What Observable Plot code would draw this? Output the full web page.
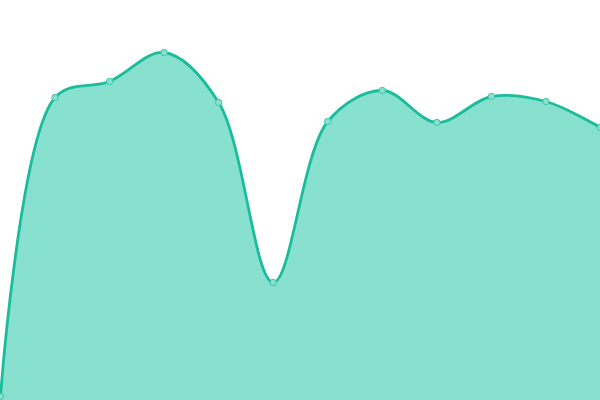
<!DOCTYPE html>
<html>
<head>
<meta charset="utf-8">
<script src="https://cdn.jsdelivr.net/npm/d3@7"></script>
<script src="https://cdn.jsdelivr.net/npm/@observablehq/plot@0.6"></script>
<style>
  html, body { margin: 0; padding: 0; background: #fff; }
  #chart svg { display: block; }
</style>
</head>
<body>
<div id="chart"></div>
<script>
const categories = [0, 1, 2, 3, 4, 5, 6, 7, 8, 9, 10, 11];
const values = [1, 75.75, 79.75, 87, 74.5, 29.5, 69.75, 77.5, 69.5, 76, 74.75, 68.25];

const data = categories.map((c, i) => ({x: c, y: values[i]}));

const chart = Plot.plot({
  width: 600,
  height: 400,
  margin: 0,
  x: {domain: [0, 11], axis: null},
  y: {domain: [0, 100], axis: null},
  marks: [
    Plot.areaY(data, {x: "x", y: "y", curve: "catmull-rom", fill: "#88e0cf", fillOpacity: 1}),
    Plot.lineY(data, {x: "x", y: "y", curve: "catmull-rom", stroke: "#1abc9c", strokeWidth: 2.8}),
    Plot.dot(data, {x: "x", y: "y", r: 3.2, fill: "#88e0cf", stroke: "#3cc8a8", strokeWidth: 1})
  ]
});
document.getElementById("chart").appendChild(chart);
</script>
</body>
</html>
